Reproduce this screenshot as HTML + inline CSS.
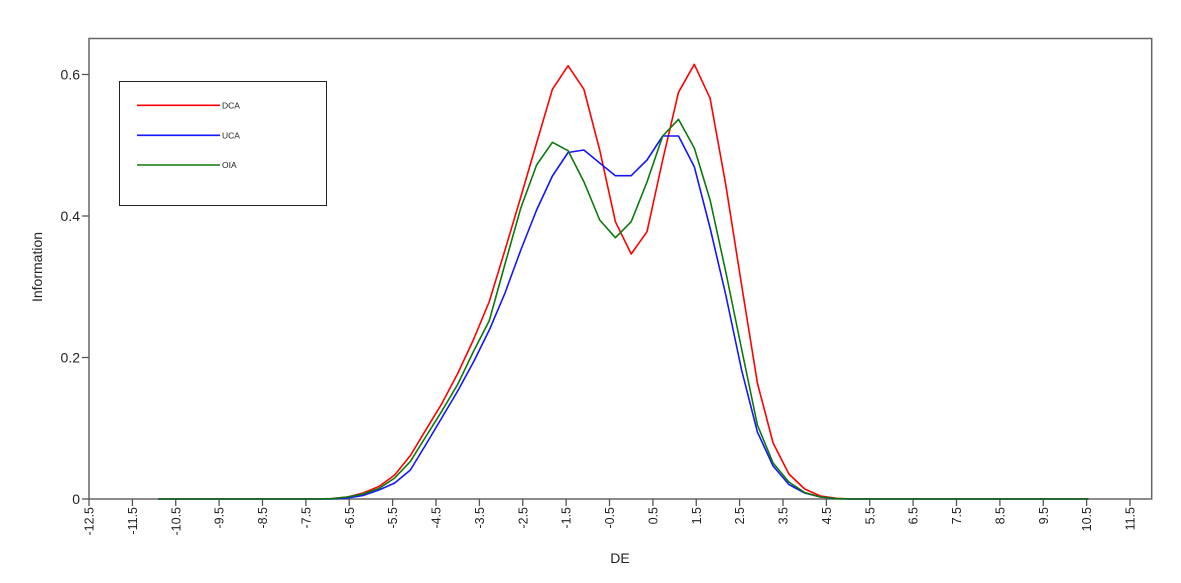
<!DOCTYPE html>
<html>
<head>
<meta charset="utf-8">
<style>
html,body{margin:0;padding:0;background:#fff;}
svg{display:block;}
text{font-family:"Liberation Sans",Arial,sans-serif;fill:#222;}
</style>
</head>
<body>
<svg width="1181" height="583" viewBox="0 0 1181 583" xmlns="http://www.w3.org/2000/svg">
<rect x="0" y="0" width="1181" height="583" fill="#fff"/>
<!-- frame -->
<rect x="89" y="38.5" width="1062.7" height="460.5" fill="none" stroke="#666" stroke-width="1.5"/>

<!-- y ticks -->
<g stroke="#555" stroke-width="1.3">
<line x1="82" y1="499" x2="89" y2="499"/>
<line x1="82" y1="357.5" x2="89" y2="357.5"/>
<line x1="82" y1="216" x2="89" y2="216"/>
<line x1="82" y1="74.5" x2="89" y2="74.5"/>
</g>
<g font-size="14" text-anchor="end">
<text x="80" y="504">0</text>
<text x="80" y="362.5">0.2</text>
<text x="80" y="221">0.4</text>
<text x="80" y="79.5">0.6</text>
</g>

<!-- x ticks -->
<g stroke="#555" stroke-width="1.3">
<line x1="89" y1="499" x2="89" y2="506"/>
<line x1="132.4" y1="499" x2="132.4" y2="506"/>
<line x1="175.75" y1="499" x2="175.75" y2="506"/>
<line x1="219.1" y1="499" x2="219.1" y2="506"/>
<line x1="262.5" y1="499" x2="262.5" y2="506"/>
<line x1="305.9" y1="499" x2="305.9" y2="506"/>
<line x1="349.25" y1="499" x2="349.25" y2="506"/>
<line x1="392.6" y1="499" x2="392.6" y2="506"/>
<line x1="436" y1="499" x2="436" y2="506"/>
<line x1="479.4" y1="499" x2="479.4" y2="506"/>
<line x1="522.75" y1="499" x2="522.75" y2="506"/>
<line x1="566.1" y1="499" x2="566.1" y2="506"/>
<line x1="609.5" y1="499" x2="609.5" y2="506"/>
<line x1="652.9" y1="499" x2="652.9" y2="506"/>
<line x1="696.25" y1="499" x2="696.25" y2="506"/>
<line x1="739.6" y1="499" x2="739.6" y2="506"/>
<line x1="783" y1="499" x2="783" y2="506"/>
<line x1="826.4" y1="499" x2="826.4" y2="506"/>
<line x1="869.75" y1="499" x2="869.75" y2="506"/>
<line x1="913.1" y1="499" x2="913.1" y2="506"/>
<line x1="956.5" y1="499" x2="956.5" y2="506"/>
<line x1="999.9" y1="499" x2="999.9" y2="506"/>
<line x1="1043.25" y1="499" x2="1043.25" y2="506"/>
<line x1="1086.6" y1="499" x2="1086.6" y2="506"/>
<line x1="1130" y1="499" x2="1130" y2="506"/>
</g>
<g font-size="12.5" text-anchor="end">
<text transform="translate(93.5,507) rotate(-90)">-12.5</text>
<text transform="translate(136.9,507) rotate(-90)">-11.5</text>
<text transform="translate(180.25,507) rotate(-90)">-10.5</text>
<text transform="translate(223.6,507) rotate(-90)">-9.5</text>
<text transform="translate(267,507) rotate(-90)">-8.5</text>
<text transform="translate(310.4,507) rotate(-90)">-7.5</text>
<text transform="translate(353.75,507) rotate(-90)">-6.5</text>
<text transform="translate(397.1,507) rotate(-90)">-5.5</text>
<text transform="translate(440.5,507) rotate(-90)">-4.5</text>
<text transform="translate(483.9,507) rotate(-90)">-3.5</text>
<text transform="translate(527.25,507) rotate(-90)">-2.5</text>
<text transform="translate(570.6,507) rotate(-90)">-1.5</text>
<text transform="translate(614,507) rotate(-90)">-0.5</text>
<text transform="translate(657.4,507) rotate(-90)">0.5</text>
<text transform="translate(700.75,507) rotate(-90)">1.5</text>
<text transform="translate(744.1,507) rotate(-90)">2.5</text>
<text transform="translate(787.5,507) rotate(-90)">3.5</text>
<text transform="translate(830.9,507) rotate(-90)">4.5</text>
<text transform="translate(874.25,507) rotate(-90)">5.5</text>
<text transform="translate(917.6,507) rotate(-90)">6.5</text>
<text transform="translate(961,507) rotate(-90)">7.5</text>
<text transform="translate(1004.4,507) rotate(-90)">8.5</text>
<text transform="translate(1047.75,507) rotate(-90)">9.5</text>
<text transform="translate(1091.1,507) rotate(-90)">10.5</text>
<text transform="translate(1134.5,507) rotate(-90)">11.5</text>
</g>

<!-- axis titles -->
<text x="620" y="563" font-size="14" text-anchor="middle">DE</text>
<text transform="translate(42,267) rotate(-90)" font-size="14" text-anchor="middle">Information</text>

<!-- series -->
<g fill="none" stroke-width="1.6" stroke-linejoin="round">
<polyline stroke="#ff0000" points="158.1,499 315.8,499 331.6,498.5 347.3,497 363.1,493 378.9,486.5 394.7,475 410.4,455.5 426.2,429.3 442,403.3 457.7,373.5 473.5,339.6 489.3,301.5 505,250 520.8,197 536.6,143 552.4,89.3 568.1,65.7 583.9,89.3 599.7,150 615.4,221.7 631.2,254 647,231.7 662.7,160 678.5,92.3 694.3,64.3 710.1,98.3 725.8,185 741.6,285 757.4,383 773.1,443 788.9,474 804.7,489 820.4,496 836.2,498.3 852,499 1088.5,499"/>
<polyline stroke="#1515ff" points="158.1,499 315.8,499 331.6,499 347.3,498 363.1,495.5 378.9,490 394.7,483 410.4,470 426.2,444 442,417.5 457.7,391 473.5,362 489.3,330 505,293 520.8,250 536.6,210 552.4,176 568.1,152.5 583.9,150 599.7,163 615.4,175.7 631.2,175.7 647,160 662.7,136 678.5,136 694.3,166.7 710.1,228 725.8,295 741.6,370 757.4,432 773.1,466 788.9,484.5 804.7,493 820.4,497 836.2,498.7 852,499 1088.5,499"/>
<polyline stroke="#0a7a0a" points="158.1,499 315.8,499 331.6,498.7 347.3,497 363.1,494 378.9,488.5 394.7,478 410.4,461.4 426.2,436 442,410.8 457.7,384.4 473.5,351.4 489.3,320.6 505,264 520.8,208 536.6,165 552.4,142.3 568.1,150.7 583.9,181.7 599.7,220 615.4,237.7 631.2,221.7 647,182 662.7,136 678.5,119.3 694.3,148 710.1,200 725.8,272 741.6,349 757.4,425 773.1,463 788.9,482 804.7,492.5 820.4,497 836.2,498.7 852,499 1088.5,499"/>
</g>

<!-- legend -->
<rect x="119.5" y="81.5" width="207" height="124" fill="#fff" stroke="#222" stroke-width="1"/>
<g stroke-width="1.6">
<line x1="137" y1="105.3" x2="220" y2="105.3" stroke="#ff0000"/>
<line x1="137" y1="135.3" x2="220" y2="135.3" stroke="#1515ff"/>
<line x1="137" y1="165" x2="220" y2="165" stroke="#0a7a0a"/>
</g>
<g font-size="8.5">
<text x="222" y="108.5">DCA</text>
<text x="222" y="138.5">UCA</text>
<text x="222" y="168.2">OIA</text>
</g>
</svg>
</body>
</html>
